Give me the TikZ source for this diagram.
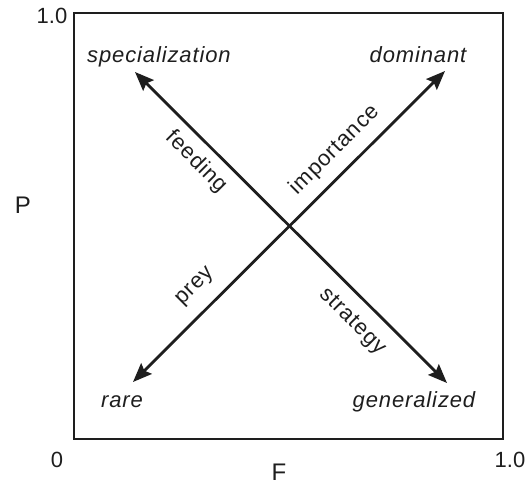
\documentclass[tikz,border=0pt]{standalone}
\usepackage{fontspec}
\setmainfont{Liberation Sans}
\newfontfamily\lblfont[LetterSpace=4]{Liberation Sans}
\usetikzlibrary{arrows.meta}
\definecolor{ink}{RGB}{30,30,30}
\tikzset{
  frame/.style={draw=ink, line width=2pt},
  axislbl/.style={font=\fontsize{22}{26}\selectfont, text=ink, inner sep=0pt, anchor=base},
  biglbl/.style={font=\fontsize{24}{28}\selectfont, text=ink, inner sep=0pt, anchor=base},
  endlbl/.style={font=\lblfont\fontsize{22}{26}\selectfont\itshape, text=ink, inner sep=0pt, anchor=base},
  alonglbl/.style={font=\lblfont\fontsize{22}{26}\selectfont, text=ink, inner sep=0pt},
  dblarrow/.style={draw=ink, line width=2.8pt, {Stealth[length=19pt,width=15pt,inset=3pt]}-{Stealth[length=19pt,width=15pt,inset=3pt]}}
}
\begin{document}
\begin{tikzpicture}[x=1pt,y=-1pt]
\useasboundingbox (0,0) rectangle (527,484);
\draw[frame] (74,13) rectangle (503,439);
% axis labels
\node[axislbl] (ytop) at (52,24) {1.0};
\node[axislbl] (xzero) at (57,467) {0};
\node[axislbl] (xone) at (510,467) {1.0};
\node[biglbl] (flbl) at (279,480) {F};
\node[biglbl] (plbl) at (23,213) {P};
% end labels
\node[endlbl] (spec) at (159,63) {specialization};
\node[endlbl] (dom) at (418,63) {dominant};
\node[endlbl] (rare) at (122,407) {rare};
\node[endlbl] (gen) at (414,407) {generalized};
% arrow tips
\coordinate (specTip) at (135,72);
\coordinate (domTip) at (445,71);
\coordinate (rareTip) at (133,382);
\coordinate (genTip) at (447,383);
\draw[dblarrow] (rareTip) -- (domTip);
\draw[dblarrow] (specTip) -- (genTip);
% labels along arrows
\node[alonglbl, rotate=-45] (feed) at (196,162) {feeding};
\node[alonglbl, rotate=45] (imp) at (335,150) {importance};
\node[alonglbl, rotate=45] (prey) at (196,287) {prey};
\node[alonglbl, rotate=-45] (strat) at (352,322) {strategy};
\end{tikzpicture}
\end{document}
